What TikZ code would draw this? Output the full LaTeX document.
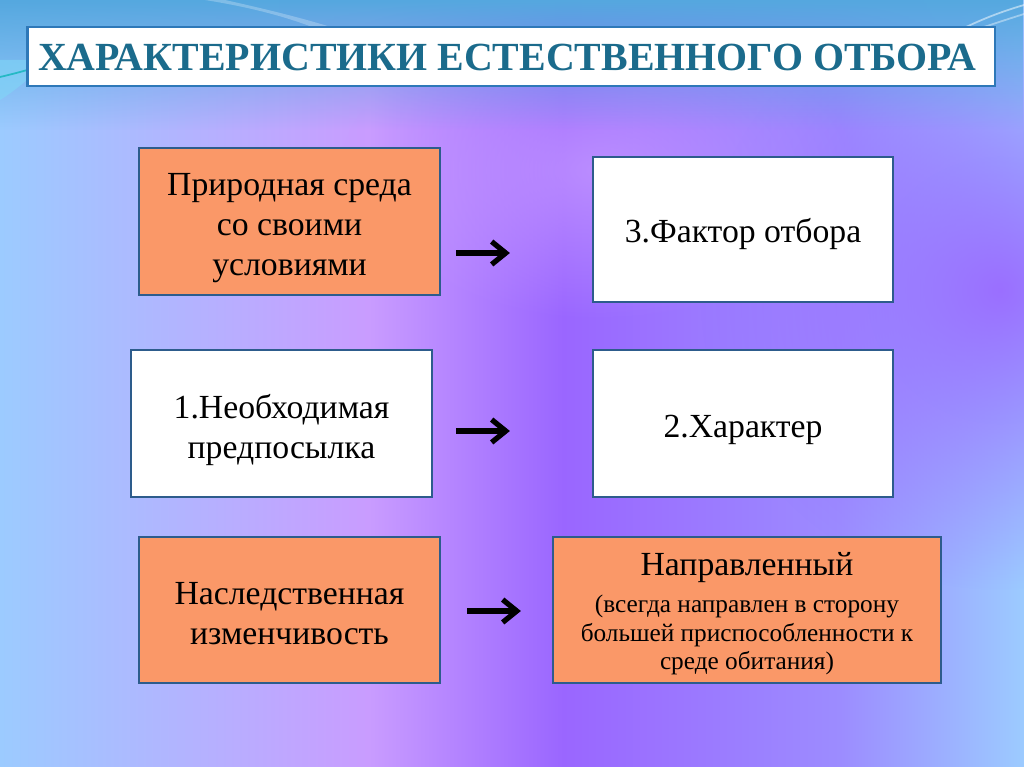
\documentclass[tikz,border=0pt]{standalone}
\usepackage{fontspec}
\setmainfont{Liberation Serif}
\usetikzlibrary{arrows.meta,fadings,calc}
\definecolor{bgA}{HTML}{9CCBFF}
\definecolor{bgB}{HTML}{C99CFF}
\definecolor{bgC}{HTML}{9A66FF}
\definecolor{bgC2}{HTML}{9C8CFF}
\definecolor{bgD}{HTML}{9CCBFF}
\definecolor{topblue}{HTML}{55A8DF}
\definecolor{titleline}{HTML}{2E78B8}
\definecolor{titletext}{HTML}{1B6B8C}
\definecolor{boxline}{HTML}{2D5C8C}
\definecolor{orangefill}{HTML}{FA9868}
\pgfdeclarehorizontalshading{bgh}{100bp}{color(0bp)=(bgA); color(25bp)=(bgA); color(43bp)=(bgB); color(52.5bp)=(bgC); color(66bp)=(bgC2); color(75bp)=(bgD); color(100bp)=(bgD)}
\tikzfading[name=softblob, inner color=transparent!0, outer color=transparent!100]
\begin{document}
\begin{tikzpicture}[x=0.02cm,y=-0.02cm,
  box/.style={draw=boxline, line width=1.3pt, inner sep=0pt},
  orangebox/.style={box, fill=orangefill},
  whitebox/.style={box, fill=white},
  boxtext/.style={inner sep=0pt, align=center, text=black,
    font=\fontsize{19.2}{22.7}\selectfont},
  smalltext/.style={inner sep=0pt, align=center, text=black,
    font=\fontsize{14.4}{16.4}\selectfont},
  conn/.style={line width=3pt, -{Straight Barb[length=8pt,width=13pt]}}
]
\useasboundingbox (0,0) rectangle (1024,767);
% background
\shade[shading=bgh] (0,0) rectangle (1024,767);
\fill[bgC, opacity=0.9, path fading=softblob] (1000,290) ellipse [x radius=300, y radius=300];
\fill[bgB, opacity=0.7, path fading=softblob] (600,170) ellipse [x radius=260, y radius=150];
\fill[topblue, path fading=south] (0,0) rectangle (1024,130);
\fill[white, opacity=0.25] (225,0) .. controls (270,10) and (310,20) .. (340,30) -- (320,30) .. controls (290,18) and (255,8) .. (205,0) -- cycle;
\draw[white, opacity=0.5, line width=1pt] (1024,5) .. controls (1000,12) and (980,20) .. (960,30);
\draw[white, opacity=0.4, line width=1pt] (1024,14) .. controls (1005,20) and (990,25) .. (975,30);
\fill[cyan!50, opacity=0.6] (0,60) -- (27,60) -- (27,80) .. controls (15,90) and (8,95) .. (0,100) -- cycle;
\draw[teal!60!cyan, opacity=0.7, line width=1pt] (0,77) .. controls (30,70) and (50,63) .. (70,58);
% title
\node[draw=titleline, line width=1.6pt, fill=white, minimum width=19.36cm, minimum height=1.18cm, inner sep=0pt] (title) at (511,56.5) {};
\node[text=titletext, font=\fontsize{22.7}{26}\selectfont\bfseries, inner sep=0pt] (titletxt) at (507,57) {ХАРАКТЕРИСТИКИ ЕСТЕСТВЕННОГО ОТБОРА};
% boxes
\node[orangebox, minimum width=6.02cm, minimum height=2.94cm] (b1) at (289.5,221.5) {};
\node[boxtext] (t1) at (289.5,228) {Природная среда\\со своими\\условиями};
\node[whitebox, minimum width=6.0cm, minimum height=2.9cm] (b2) at (743,229.5) {};
\node[boxtext] (t2) at (743,234) {3.Фактор отбора};
\node[whitebox, minimum width=6.02cm, minimum height=2.94cm] (b3) at (281.5,423.5) {};
\node[boxtext] (t3) at (281.5,430) {1.Необходимая\\предпосылка};
\node[whitebox, minimum width=6.0cm, minimum height=2.94cm] (b4) at (743,423.5) {};
\node[boxtext] (t4) at (743,430) {2.Характер};
\node[orangebox, minimum width=6.02cm, minimum height=2.92cm] (b5) at (289.5,610) {};
\node[boxtext] (t5) at (289.5,614) {Наследственная\\изменчивость};
\node[orangebox, minimum width=7.76cm, minimum height=2.92cm] (b6) at (747,610) {};
\node[boxtext] (t6) at (747,568) {Направленный};
\node[smalltext] (t6b) at (747,635) {(всегда направлен в сторону\\большей приспособленности к\\среде обитания)};
% connectors
\coordinate (a1s) at ($(b1.east)+(15,31.5)$);
\coordinate (a1e) at ($(b2.west)+(-82,23.5)$);
\draw[conn] (a1s) -- (a1e);
\coordinate (a2s) at ($(b3.east)+(23,7.5)$);
\coordinate (a2e) at ($(b4.west)+(-82,7.5)$);
\draw[conn] (a2s) -- (a2e);
\coordinate (a3s) at ($(b5.east)+(26,1)$);
\coordinate (a3e) at ($(b6.west)+(-31,1)$);
\draw[conn] (a3s) -- (a3e);
\end{tikzpicture}
\end{document}
